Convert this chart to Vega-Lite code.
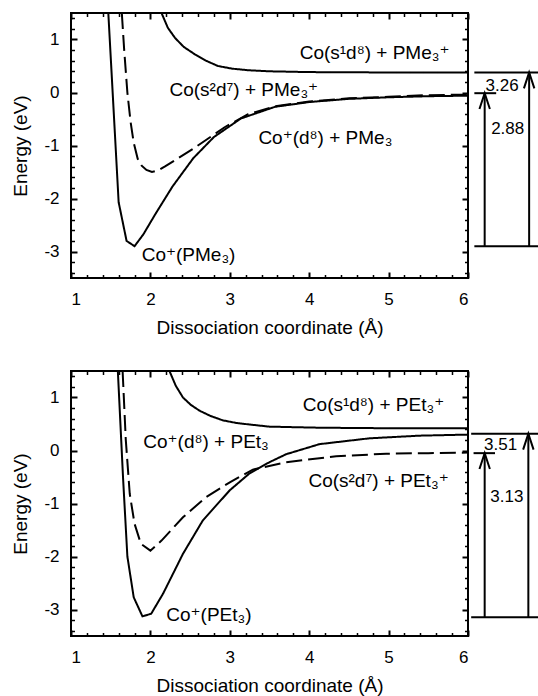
{
  "$schema": "https://vega.github.io/schema/vega-lite/v6.json",
  "padding": {"left": 10, "top": 11, "right": 0, "bottom": 0},
  "spacing": 31,
  "config": {
    "font": "Liberation Sans",
    "view": {"stroke": "black", "strokeWidth": 2},
    "axis": {"grid": false, "domain": false, "labelColor": "black", "titleColor": "black", "tickColor": "black", "labelFont": "Liberation Sans", "titleFont": "Liberation Sans", "titleFontWeight": "normal"}
  },
  "datasets": {
    "curvesTop": [
      {"c": "upper", "s": "solid", "x": 2.14, "y": 1.5},
      {"c": "upper", "s": "solid", "x": 2.22, "y": 1.22},
      {"c": "upper", "s": "solid", "x": 2.31, "y": 1.03},
      {"c": "upper", "s": "solid", "x": 2.42, "y": 0.86},
      {"c": "upper", "s": "solid", "x": 2.56, "y": 0.72},
      {"c": "upper", "s": "solid", "x": 2.70, "y": 0.60},
      {"c": "upper", "s": "solid", "x": 2.85, "y": 0.50},
      {"c": "upper", "s": "solid", "x": 3.03, "y": 0.45},
      {"c": "upper", "s": "solid", "x": 3.23, "y": 0.42},
      {"c": "upper", "s": "solid", "x": 3.5, "y": 0.40},
      {"c": "upper", "s": "solid", "x": 4.0, "y": 0.385},
      {"c": "upper", "s": "solid", "x": 5.0, "y": 0.378},
      {"c": "upper", "s": "solid", "x": 6.0, "y": 0.377},
      {"c": "ground", "s": "solid", "x": 1.47, "y": 1.5},
      {"c": "ground", "s": "solid", "x": 1.60, "y": -2.07},
      {"c": "ground", "s": "solid", "x": 1.70, "y": -2.80},
      {"c": "ground", "s": "solid", "x": 1.80, "y": -2.90},
      {"c": "ground", "s": "solid", "x": 1.91, "y": -2.68},
      {"c": "ground", "s": "solid", "x": 2.06, "y": -2.30},
      {"c": "ground", "s": "solid", "x": 2.28, "y": -1.77},
      {"c": "ground", "s": "solid", "x": 2.54, "y": -1.24},
      {"c": "ground", "s": "solid", "x": 2.80, "y": -0.84},
      {"c": "ground", "s": "solid", "x": 3.14, "y": -0.49},
      {"c": "ground", "s": "solid", "x": 3.57, "y": -0.27},
      {"c": "ground", "s": "solid", "x": 4.0, "y": -0.18},
      {"c": "ground", "s": "solid", "x": 4.5, "y": -0.12},
      {"c": "ground", "s": "solid", "x": 5.0, "y": -0.09},
      {"c": "ground", "s": "solid", "x": 5.5, "y": -0.07},
      {"c": "ground", "s": "solid", "x": 6.0, "y": -0.06},
      {"c": "excited", "s": "dashed", "x": 1.64, "y": 1.5},
      {"c": "excited", "s": "dashed", "x": 1.67, "y": 0.8},
      {"c": "excited", "s": "dashed", "x": 1.71, "y": 0.0},
      {"c": "excited", "s": "dashed", "x": 1.75, "y": -0.55},
      {"c": "excited", "s": "dashed", "x": 1.79, "y": -0.95},
      {"c": "excited", "s": "dashed", "x": 1.84, "y": -1.25},
      {"c": "excited", "s": "dashed", "x": 1.89, "y": -1.38},
      {"c": "excited", "s": "dashed", "x": 1.95, "y": -1.46},
      {"c": "excited", "s": "dashed", "x": 2.02, "y": -1.50},
      {"c": "excited", "s": "dashed", "x": 2.10, "y": -1.47},
      {"c": "excited", "s": "dashed", "x": 2.19, "y": -1.39},
      {"c": "excited", "s": "dashed", "x": 2.54, "y": -1.06},
      {"c": "excited", "s": "dashed", "x": 2.93, "y": -0.66},
      {"c": "excited", "s": "dashed", "x": 3.23, "y": -0.41},
      {"c": "excited", "s": "dashed", "x": 3.57, "y": -0.26},
      {"c": "excited", "s": "dashed", "x": 4.0, "y": -0.17},
      {"c": "excited", "s": "dashed", "x": 4.5, "y": -0.11},
      {"c": "excited", "s": "dashed", "x": 5.0, "y": -0.08},
      {"c": "excited", "s": "dashed", "x": 5.5, "y": -0.05},
      {"c": "excited", "s": "dashed", "x": 6.0, "y": -0.04}
    ],
    "curvesBot": [
      {"c": "upper", "s": "solid", "x": 2.24, "y": 1.5},
      {"c": "upper", "s": "solid", "x": 2.32, "y": 1.22},
      {"c": "upper", "s": "solid", "x": 2.41, "y": 1.0},
      {"c": "upper", "s": "solid", "x": 2.51, "y": 0.86},
      {"c": "upper", "s": "solid", "x": 2.62, "y": 0.75},
      {"c": "upper", "s": "solid", "x": 2.76, "y": 0.65},
      {"c": "upper", "s": "solid", "x": 2.91, "y": 0.57},
      {"c": "upper", "s": "solid", "x": 3.08, "y": 0.52},
      {"c": "upper", "s": "solid", "x": 3.25, "y": 0.49},
      {"c": "upper", "s": "solid", "x": 3.5, "y": 0.45},
      {"c": "upper", "s": "solid", "x": 4.13, "y": 0.43},
      {"c": "upper", "s": "solid", "x": 5.0, "y": 0.42},
      {"c": "upper", "s": "solid", "x": 6.0, "y": 0.42},
      {"c": "ground", "s": "solid", "x": 1.59, "y": 1.5},
      {"c": "ground", "s": "solid", "x": 1.655, "y": -0.5},
      {"c": "ground", "s": "solid", "x": 1.71, "y": -2.0},
      {"c": "ground", "s": "solid", "x": 1.79, "y": -2.77},
      {"c": "ground", "s": "solid", "x": 1.90, "y": -3.13},
      {"c": "ground", "s": "solid", "x": 2.01, "y": -3.08},
      {"c": "ground", "s": "solid", "x": 2.16, "y": -2.70},
      {"c": "ground", "s": "solid", "x": 2.41, "y": -1.95},
      {"c": "ground", "s": "solid", "x": 2.66, "y": -1.32},
      {"c": "ground", "s": "solid", "x": 3.0, "y": -0.75},
      {"c": "ground", "s": "solid", "x": 3.25, "y": -0.43},
      {"c": "ground", "s": "solid", "x": 3.5, "y": -0.22},
      {"c": "ground", "s": "solid", "x": 3.71, "y": -0.07},
      {"c": "ground", "s": "solid", "x": 4.13, "y": 0.12},
      {"c": "ground", "s": "solid", "x": 4.76, "y": 0.23},
      {"c": "ground", "s": "solid", "x": 5.39, "y": 0.28},
      {"c": "ground", "s": "solid", "x": 6.0, "y": 0.30},
      {"c": "excited", "s": "dashed", "x": 1.65, "y": 1.5},
      {"c": "excited", "s": "dashed", "x": 1.69, "y": 0.2},
      {"c": "excited", "s": "dashed", "x": 1.74, "y": -0.82},
      {"c": "excited", "s": "dashed", "x": 1.80, "y": -1.38},
      {"c": "excited", "s": "dashed", "x": 1.88, "y": -1.76},
      {"c": "excited", "s": "dashed", "x": 2.0, "y": -1.89},
      {"c": "excited", "s": "dashed", "x": 2.14, "y": -1.70},
      {"c": "excited", "s": "dashed", "x": 2.41, "y": -1.26},
      {"c": "excited", "s": "dashed", "x": 2.70, "y": -0.88},
      {"c": "excited", "s": "dashed", "x": 3.0, "y": -0.60},
      {"c": "excited", "s": "dashed", "x": 3.29, "y": -0.36},
      {"c": "excited", "s": "dashed", "x": 3.71, "y": -0.22},
      {"c": "excited", "s": "dashed", "x": 4.34, "y": -0.11},
      {"c": "excited", "s": "dashed", "x": 4.97, "y": -0.06},
      {"c": "excited", "s": "dashed", "x": 5.5, "y": -0.05},
      {"c": "excited", "s": "dashed", "x": 6.0, "y": -0.04}
    ],
    "labelsTop": [
      {"x": 3.88, "y": 0.75, "t": "Co(s¹d⁸) + PMe₃⁺"},
      {"x": 2.24, "y": 0.05, "t": "Co(s²d⁷) + PMe₃⁺"},
      {"x": 3.36, "y": -0.86, "t": "Co⁺(d⁸) + PMe₃"},
      {"x": 1.89, "y": -3.06, "t": "Co⁺(PMe₃)"}
    ],
    "labelsBot": [
      {"x": 3.92, "y": 0.85, "t": "Co(s¹d⁸) + PEt₃⁺"},
      {"x": 1.91, "y": 0.16, "t": "Co⁺(d⁸) + PEt₃"},
      {"x": 3.99, "y": -0.57, "t": "Co(s²d⁷) + PEt₃⁺"},
      {"x": 2.20, "y": -3.11, "t": "Co⁺(PEt₃)"}
    ],
    "segTop": [
      {"x": 6.08, "x2": 6.89, "y": 0.377, "y2": 0.377},
      {"x": 6.08, "x2": 6.355, "y": -0.013, "y2": -0.013},
      {"x": 6.08, "x2": 6.89, "y": -2.90, "y2": -2.90},
      {"x": 6.21, "x2": 6.21, "y": -2.90, "y2": -0.013},
      {"x": 6.77, "x2": 6.77, "y": -2.90, "y2": 0.377}
    ],
    "segBot": [
      {"x": 6.04, "x2": 6.89, "y": 0.315, "y2": 0.315},
      {"x": 6.07, "x2": 6.34, "y": -0.05, "y2": -0.05},
      {"x": 6.04, "x2": 6.89, "y": -3.145, "y2": -3.145},
      {"x": 6.21, "x2": 6.21, "y": -3.145, "y2": -0.05},
      {"x": 6.76, "x2": 6.76, "y": -3.145, "y2": 0.315}
    ],
    "tipsTop": [{"x": 6.21, "y": -0.013}, {"x": 6.77, "y": 0.377}],
    "tipsBot": [{"x": 6.21, "y": -0.05}, {"x": 6.76, "y": 0.315}],
    "numsTop": [{"x": 6.43, "y": 0.13, "t": "3.26"}, {"x": 6.50, "y": -0.68, "t": "2.88"}],
    "numsBot": [{"x": 6.41, "y": 0.11, "t": "3.51"}, {"x": 6.49, "y": -0.88, "t": "3.13"}]
  },
  "vconcat": [
    {
      "width": 397,
      "height": 265,
      "resolve": {"axis": {"x": "independent", "y": "independent"}},
      "layer": [
        {
          "data": {"name": "curvesTop"},
          "mark": {"type": "line", "strokeWidth": 2, "color": "black", "clip": true},
          "encoding": {
            "x": {"field": "x", "type": "quantitative", "scale": {"domain": [1, 6], "nice": false, "zero": false},
              "axis": {"orient": "bottom", "values": [1, 2, 3, 4, 5, 6], "ticks": false, "labelPadding": 13, "labelFontSize": 17, "title": "Dissociation coordinate (Å)", "titleFontSize": 19, "titlePadding": 11}},
            "y": {"field": "y", "type": "quantitative", "scale": {"domain": [-3.5, 1.5], "nice": false, "zero": false},
              "axis": {"orient": "left", "values": [-3, -2, -1, 0, 1], "ticks": false, "labelPadding": 12, "labelFontSize": 17, "labelExpr": "'' + datum.value", "title": "Energy (eV)", "titleFontSize": 19, "titlePadding": 13}},
            "detail": {"field": "c"},
            "strokeDash": {"field": "s", "type": "nominal", "scale": {"domain": ["solid", "dashed"], "range": [[1, 0], [16, 6]]}, "legend": null}
          }
        },
        {
          "data": {"name": "labelsTop"},
          "mark": {"type": "text", "align": "left", "baseline": "middle", "fontSize": 19, "font": "Liberation Sans, DejaVu Sans", "color": "black"},
          "encoding": {
            "x": {"field": "x", "type": "quantitative", "scale": {"domain": [1, 6], "nice": false, "zero": false},
              "axis": {"orient": "bottom", "values": [1, 2, 3, 4, 5, 6], "labels": false, "tickSize": -6, "tickWidth": 2, "title": null}},
            "y": {"field": "y", "type": "quantitative", "scale": {"domain": [-3.5, 1.5], "nice": false, "zero": false},
              "axis": {"orient": "left", "values": [-3, -2, -1, 0, 1], "labels": false, "tickSize": -6, "tickWidth": 2, "title": null}},
            "text": {"field": "t"}
          }
        },
        {
          "data": {"name": "segTop"},
          "mark": {"type": "rule", "strokeWidth": 2, "color": "black"},
          "encoding": {
            "x": {"field": "x", "type": "quantitative", "scale": {"domain": [1, 6], "nice": false, "zero": false},
              "axis": {"orient": "bottom", "values": [1.2,1.4,1.6,1.8,2.2,2.4,2.6,2.8,3.2,3.4,3.6,3.8,4.2,4.4,4.6,4.8,5.2,5.4,5.6,5.8], "labels": false, "tickSize": -3.5, "tickWidth": 1.5, "title": null}},
            "x2": {"field": "x2"},
            "y": {"field": "y", "type": "quantitative", "scale": {"domain": [-3.5, 1.5], "nice": false, "zero": false},
              "axis": {"orient": "left", "values": [-3.4,-3.2,-2.8,-2.6,-2.4,-2.2,-1.8,-1.6,-1.4,-1.2,-0.8,-0.6,-0.4,-0.2,0.2,0.4,0.6,0.8,1.2,1.4], "labels": false, "tickSize": -3.5, "tickWidth": 1.5, "title": null}},
            "y2": {"field": "y2"}
          }
        },
        {
          "data": {"name": "tipsTop"},
          "mark": {"type": "point", "shape": "M -0.33 1 L 0 0 L 0.33 1", "size": 1000, "filled": false, "strokeWidth": 2, "color": "black", "opacity": 1},
          "encoding": {
            "x": {"field": "x", "type": "quantitative", "scale": {"domain": [1, 6], "nice": false, "zero": false},
              "axis": {"orient": "top", "values": [1, 2, 3, 4, 5, 6], "labels": false, "tickSize": -6, "tickWidth": 2, "title": null}},
            "y": {"field": "y", "type": "quantitative", "scale": {"domain": [-3.5, 1.5], "nice": false, "zero": false},
              "axis": {"orient": "right", "values": [-3, -2, -1, 0, 1], "labels": false, "tickSize": -6, "tickWidth": 2, "title": null}}
          }
        },
        {
          "data": {"name": "numsTop"},
          "mark": {"type": "text", "align": "center", "baseline": "middle", "fontSize": 17, "font": "Liberation Sans", "color": "black"},
          "encoding": {
            "x": {"field": "x", "type": "quantitative", "scale": {"domain": [1, 6], "nice": false, "zero": false},
              "axis": {"orient": "top", "values": [1.2,1.4,1.6,1.8,2.2,2.4,2.6,2.8,3.2,3.4,3.6,3.8,4.2,4.4,4.6,4.8,5.2,5.4,5.6,5.8], "labels": false, "tickSize": -3.5, "tickWidth": 1.5, "title": null}},
            "y": {"field": "y", "type": "quantitative", "scale": {"domain": [-3.5, 1.5], "nice": false, "zero": false},
              "axis": {"orient": "right", "values": [-3.4,-3.2,-2.8,-2.6,-2.4,-2.2,-1.8,-1.6,-1.4,-1.2,-0.8,-0.6,-0.4,-0.2,0.2,0.4,0.6,0.8,1.2,1.4], "labels": false, "tickSize": -3.5, "tickWidth": 1.5, "title": null}},
            "text": {"field": "t"}
          }
        }
      ]
    },
    {
      "width": 397,
      "height": 265,
      "resolve": {"axis": {"x": "independent", "y": "independent"}},
      "layer": [
        {
          "data": {"name": "curvesBot"},
          "mark": {"type": "line", "strokeWidth": 2, "color": "black", "clip": true},
          "encoding": {
            "x": {"field": "x", "type": "quantitative", "scale": {"domain": [1, 6], "nice": false, "zero": false},
              "axis": {"orient": "bottom", "values": [1, 2, 3, 4, 5, 6], "ticks": false, "labelPadding": 13, "labelFontSize": 17, "title": "Dissociation coordinate (Å)", "titleFontSize": 19, "titlePadding": 11}},
            "y": {"field": "y", "type": "quantitative", "scale": {"domain": [-3.5, 1.5], "nice": false, "zero": false},
              "axis": {"orient": "left", "values": [-3, -2, -1, 0, 1], "ticks": false, "labelPadding": 12, "labelFontSize": 17, "labelExpr": "'' + datum.value", "title": "Energy (eV)", "titleFontSize": 19, "titlePadding": 13}},
            "detail": {"field": "c"},
            "strokeDash": {"field": "s", "type": "nominal", "scale": {"domain": ["solid", "dashed"], "range": [[1, 0], [16, 6]]}, "legend": null}
          }
        },
        {
          "data": {"name": "labelsBot"},
          "mark": {"type": "text", "align": "left", "baseline": "middle", "fontSize": 19, "font": "Liberation Sans, DejaVu Sans", "color": "black"},
          "encoding": {
            "x": {"field": "x", "type": "quantitative", "scale": {"domain": [1, 6], "nice": false, "zero": false},
              "axis": {"orient": "bottom", "values": [1, 2, 3, 4, 5, 6], "labels": false, "tickSize": -6, "tickWidth": 2, "title": null}},
            "y": {"field": "y", "type": "quantitative", "scale": {"domain": [-3.5, 1.5], "nice": false, "zero": false},
              "axis": {"orient": "left", "values": [-3, -2, -1, 0, 1], "labels": false, "tickSize": -6, "tickWidth": 2, "title": null}},
            "text": {"field": "t"}
          }
        },
        {
          "data": {"name": "segBot"},
          "mark": {"type": "rule", "strokeWidth": 2, "color": "black"},
          "encoding": {
            "x": {"field": "x", "type": "quantitative", "scale": {"domain": [1, 6], "nice": false, "zero": false},
              "axis": {"orient": "bottom", "values": [1.2,1.4,1.6,1.8,2.2,2.4,2.6,2.8,3.2,3.4,3.6,3.8,4.2,4.4,4.6,4.8,5.2,5.4,5.6,5.8], "labels": false, "tickSize": -3.5, "tickWidth": 1.5, "title": null}},
            "x2": {"field": "x2"},
            "y": {"field": "y", "type": "quantitative", "scale": {"domain": [-3.5, 1.5], "nice": false, "zero": false},
              "axis": {"orient": "left", "values": [-3.4,-3.2,-2.8,-2.6,-2.4,-2.2,-1.8,-1.6,-1.4,-1.2,-0.8,-0.6,-0.4,-0.2,0.2,0.4,0.6,0.8,1.2,1.4], "labels": false, "tickSize": -3.5, "tickWidth": 1.5, "title": null}},
            "y2": {"field": "y2"}
          }
        },
        {
          "data": {"name": "tipsBot"},
          "mark": {"type": "point", "shape": "M -0.33 1 L 0 0 L 0.33 1", "size": 1000, "filled": false, "strokeWidth": 2, "color": "black", "opacity": 1},
          "encoding": {
            "x": {"field": "x", "type": "quantitative", "scale": {"domain": [1, 6], "nice": false, "zero": false},
              "axis": {"orient": "top", "values": [1, 2, 3, 4, 5, 6], "labels": false, "tickSize": -6, "tickWidth": 2, "title": null}},
            "y": {"field": "y", "type": "quantitative", "scale": {"domain": [-3.5, 1.5], "nice": false, "zero": false},
              "axis": {"orient": "right", "values": [-3, -2, -1, 0, 1], "labels": false, "tickSize": -6, "tickWidth": 2, "title": null}}
          }
        },
        {
          "data": {"name": "numsBot"},
          "mark": {"type": "text", "align": "center", "baseline": "middle", "fontSize": 17, "font": "Liberation Sans", "color": "black"},
          "encoding": {
            "x": {"field": "x", "type": "quantitative", "scale": {"domain": [1, 6], "nice": false, "zero": false},
              "axis": {"orient": "top", "values": [1.2,1.4,1.6,1.8,2.2,2.4,2.6,2.8,3.2,3.4,3.6,3.8,4.2,4.4,4.6,4.8,5.2,5.4,5.6,5.8], "labels": false, "tickSize": -3.5, "tickWidth": 1.5, "title": null}},
            "y": {"field": "y", "type": "quantitative", "scale": {"domain": [-3.5, 1.5], "nice": false, "zero": false},
              "axis": {"orient": "right", "values": [-3.4,-3.2,-2.8,-2.6,-2.4,-2.2,-1.8,-1.6,-1.4,-1.2,-0.8,-0.6,-0.4,-0.2,0.2,0.4,0.6,0.8,1.2,1.4], "labels": false, "tickSize": -3.5, "tickWidth": 1.5, "title": null}},
            "text": {"field": "t"}
          }
        }
      ]
    }
  ]
}
